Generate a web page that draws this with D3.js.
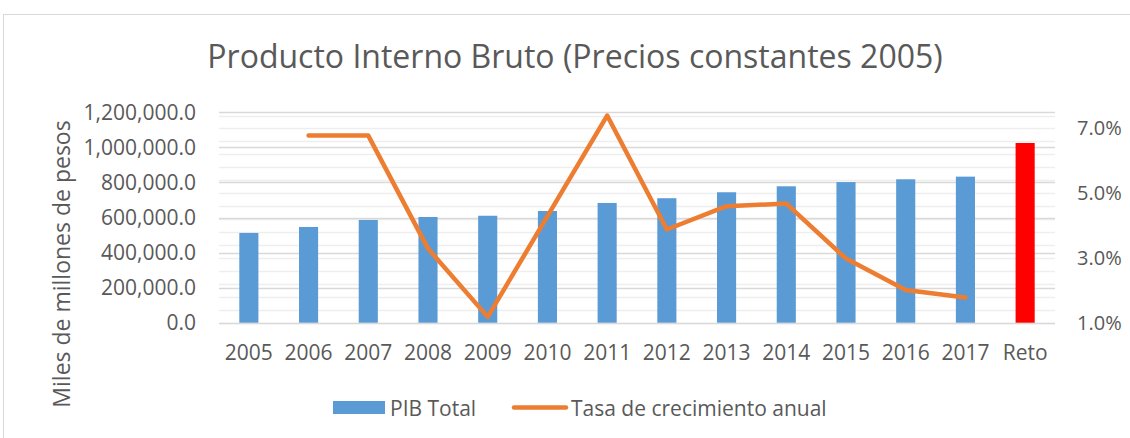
<!DOCTYPE html>
<html><head><meta charset="utf-8">
<script src="https://cdn.jsdelivr.net/npm/d3@7"></script>
<style>body{margin:0;background:#fff;}svg{display:block;font-family:"Open Sans",sans-serif;}</style>
</head><body><svg id="c" width="1130" height="438"></svg>
<script>
const categories = ["2005","2006","2007","2008","2009","2010","2011","2012","2013","2014","2015","2016","2017","Reto"];
const pibTotal = [512000,546000,586000,603000,610000,637000,683000,710000,744000,778000,802000,818000,833000,1025000];
const tasaCrecimiento = [null,0.0678,0.0678,0.0329,0.0118,0.0429,0.074,0.0388,0.046,0.0468,0.0298,0.0201,0.0178,null];
const leftTicks = [0,200000,400000,600000,800000,1000000,1200000];
const rightTicks = [0.01,0.03,0.05,0.07];
const titleText = "Producto Interno Bruto (Precios constantes 2005)";
const yTitle = "Miles de millones de pesos";
const legendLabels = ["PIB Total","Tasa de crecimiento anual"];

const svg = d3.select("#c");
const m = {l:219, r:1055, t:112.3, b:322.7};
const textColor = "#595959";

svg.append("rect").attr("x",3.5).attr("y",14.5).attr("width",1200).attr("height",500)
  .attr("fill","none").attr("stroke","#d9d9d9").attr("stroke-width",1);

const x = d3.scaleBand().domain(categories).range([m.l,m.r]).paddingInner(0.68).paddingOuter(0.34);
const yL = d3.scaleLinear().domain([0,1200000]).range([m.b,m.t]);
const yR = d3.scaleLinear().domain([0.01,0.075]).range([m.b,m.t]);

// minor gridlines (secondary axis, 0.4% step)
const minor = d3.range(0,17).map(k=>0.01+k*0.004);
svg.append("g").selectAll("line").data(minor).join("line")
  .attr("x1",m.l).attr("x2",m.r).attr("y1",d=>Math.round(yR(d))+0.5).attr("y2",d=>Math.round(yR(d))+0.5)
  .attr("stroke","#eeeeee").attr("stroke-width",1.5);
// major gridlines
svg.append("g").selectAll("line").data(leftTicks).join("line")
  .attr("x1",m.l).attr("x2",m.r).attr("y1",d=>Math.round(yL(d))+0.5).attr("y2",d=>Math.round(yL(d))+0.5)
  .attr("stroke","#d9d9d9").attr("stroke-width",1.5);

// left axis
const axL = d3.axisLeft(yL).tickValues(leftTicks).tickSize(0).tickPadding(0)
  .tickFormat(d=>d3.format(",.1f")(d));
const gL = svg.append("g").attr("transform",`translate(196,0)`).call(axL);
gL.select(".domain").remove();
gL.selectAll("text").attr("fill",textColor).style("font-size","21px").style("font-family","Open Sans");

// right axis
const axR = d3.axisRight(yR).tickValues(rightTicks).tickSize(0).tickPadding(0)
  .tickFormat(d3.format(".1%"));
const gR = svg.append("g").attr("transform",`translate(1077,0)`).call(axR);
gR.select(".domain").remove();
gR.selectAll("text").attr("fill",textColor).style("font-size","20px").style("font-family","Open Sans");

// x axis
const axX = d3.axisBottom(x).tickSize(0).tickPadding(0);
const gX = svg.append("g").attr("transform",`translate(0,345)`).call(axX);
gX.select(".domain").remove();
gX.selectAll("text").attr("fill",textColor).style("font-size","21px").style("font-family","Open Sans");

// bars
svg.append("g").selectAll("rect").data(categories).join("rect")
  .attr("x",d=>x(d)).attr("width",x.bandwidth())
  .attr("y",(d,i)=>yL(pibTotal[i])).attr("height",(d,i)=>yL(0)-yL(pibTotal[i]))
  .attr("fill",d=>d==="Reto"?"#FF0000":"#5B9BD5");

// line
const pts = categories.map((c,i)=>({c,v:tasaCrecimiento[i]})).filter(p=>p.v!=null);
svg.append("path").datum(pts)
  .attr("d",d3.line().x(p=>x(p.c)+x.bandwidth()/2).y(p=>yR(p.v)))
  .attr("fill","none").attr("stroke","#ED7D31").attr("stroke-width",4.5)
  .attr("stroke-linecap","round").attr("stroke-linejoin","round");

// title
svg.append("text").attr("x",575).attr("y",68).attr("text-anchor","middle")
  .attr("fill",textColor).style("font-size","32px").text(titleText);

// y title
svg.append("text").attr("transform","translate(70,264) rotate(-90)").attr("text-anchor","middle")
  .attr("fill",textColor).style("font-size","23px").text(yTitle);

// legend
const lg = svg.append("g");
lg.append("rect").attr("x",333).attr("y",401).attr("width",52).attr("height",13).attr("fill","#5B9BD5");
lg.append("text").attr("x",390).attr("y",416).attr("fill",textColor).style("font-size","21px").text(legendLabels[0]);
lg.append("line").attr("x1",514).attr("x2",566).attr("y1",407.5).attr("y2",407.5)
  .attr("stroke","#ED7D31").attr("stroke-width",4.5).attr("stroke-linecap","round");
lg.append("text").attr("x",571).attr("y",416).attr("fill",textColor).style("font-size","21px").text(legendLabels[1]);
</script></body></html>
